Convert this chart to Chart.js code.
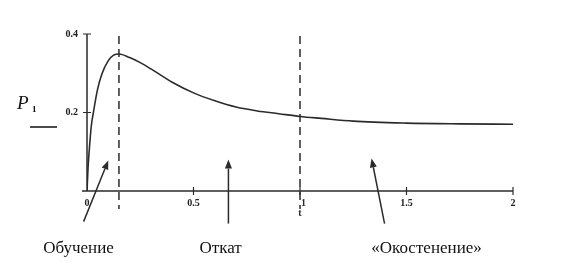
<!DOCTYPE html>
<html>
<head>
<meta charset="utf-8">
<script src="https://cdn.jsdelivr.net/npm/chart.js@4/dist/chart.umd.min.js"></script>
<style>
  html, body { margin: 0; padding: 0; background: #fff; }
  #wrap { width: 588px; height: 262px; }
</style>
</head>
<body>
<div id="wrap"><canvas id="chart" width="588" height="262"></canvas></div>
<script>
// curve: time t and P1
const tValues = [0, 0.005, 0.01, 0.02, 0.03, 0.05, 0.07, 0.1, 0.125, 0.15, 0.2, 0.25, 0.3, 0.4, 0.5,
  0.6, 0.7, 0.8, 0.9, 1.0, 1.1, 1.25, 1.5, 1.75, 2.0];
const pValues = [0, 0.06, 0.10, 0.165, 0.20, 0.26, 0.298, 0.332, 0.346, 0.349, 0.34, 0.327, 0.311, 0.277, 0.25,
  0.23, 0.214, 0.204, 0.197, 0.19, 0.185, 0.178, 0.173, 0.171, 0.170];

const xTicks = [0, 0.5, 1, 1.5, 2];
const yTicks = [0.2, 0.4];

// dashed phase borders
const phaseBorders = [0.15, 1.0];

// phase captions and their arrows (tip / tail in data units)
const phaseLabels = ["Обучение", "Откат", "«Окостенение»"];
const labelT = [-0.04, 0.627, 1.594];
const arrowTipT = [0.10, 0.664, 1.336];
const arrowTipP = [0.078, 0.08, 0.083];
const arrowTailT = [-0.016, 0.664, 1.397];
const arrowTailP = [-0.078, -0.083, -0.083];

const ink = "#2b2b2b";
const tickFont = { family: "Liberation Serif", size: 10, weight: "bold" };

const decor = {
  id: "decor",
  afterDraw(chart) {
    const ctx = chart.ctx;
    const xs = chart.scales.x, ys = chart.scales.y;
    const area = chart.chartArea;
    ctx.save();
    ctx.strokeStyle = ink;
    ctx.fillStyle = ink;

    // axes
    ctx.lineWidth = 1.5;
    ctx.beginPath();
    ctx.moveTo(area.left - 5, area.bottom);
    ctx.lineTo(area.right, area.bottom);
    ctx.moveTo(area.left, area.top);
    ctx.lineTo(area.left, area.bottom);
    ctx.stroke();

    // ticks crossing the axes
    ctx.lineWidth = 1.2;
    ctx.beginPath();
    xTicks.forEach(v => {
      if (v === 0) return;
      const x = xs.getPixelForValue(v);
      ctx.moveTo(x, area.bottom - 4);
      ctx.lineTo(x, area.bottom + 4);
    });
    yTicks.forEach(v => {
      const y = ys.getPixelForValue(v);
      ctx.moveTo(area.left - 4, y);
      ctx.lineTo(area.left + 4, y);
    });
    ctx.stroke();

    // dashed borders
    ctx.lineWidth = 1.5;
    ctx.setLineDash([8, 5]);
    ctx.beginPath();
    phaseBorders.forEach(v => {
      const x = xs.getPixelForValue(v);
      ctx.moveTo(x, area.top + 2);
      ctx.lineTo(x, area.bottom + 18);
    });
    ctx.stroke();
    ctx.setLineDash([]);

    // tick label "1" sits on the dash, redraw it on top, then "t" below
    ctx.font = "bold 10px 'Liberation Serif'";
    ctx.textAlign = "left";
    ctx.textBaseline = "middle";
    ctx.fillText("1", xs.getPixelForValue(1) + 1, area.bottom + 12);
    ctx.textAlign = "center";
    ctx.fillText("t", xs.getPixelForValue(1), area.bottom + 22);

    // arrows
    ctx.lineWidth = 1.5;
    arrowTipT.forEach((t, i) => {
      const x1 = xs.getPixelForValue(arrowTailT[i]);
      const y1 = ys.getPixelForValue(arrowTailP[i]);
      const x2 = xs.getPixelForValue(t);
      const y2 = ys.getPixelForValue(arrowTipP[i]);
      const a = Math.atan2(y2 - y1, x2 - x1);
      const len = 9, half = 3.5;
      const bx = x2 - len * Math.cos(a), by = y2 - len * Math.sin(a);
      ctx.beginPath();
      ctx.moveTo(x1, y1);
      ctx.lineTo(bx, by);
      ctx.stroke();
      ctx.beginPath();
      ctx.moveTo(x2, y2);
      ctx.lineTo(bx + half * Math.sin(a), by - half * Math.cos(a));
      ctx.lineTo(bx - half * Math.sin(a), by + half * Math.cos(a));
      ctx.closePath();
      ctx.fill();
    });

    // captions
    ctx.fillStyle = "#111";
    ctx.font = "17px 'Liberation Serif'";
    ctx.textAlign = "center";
    ctx.textBaseline = "alphabetic";
    phaseLabels.forEach((s, i) => {
      ctx.fillText(s, xs.getPixelForValue(labelT[i]), 253);
    });

    // P1 axis title with its bar
    ctx.textAlign = "left";
    ctx.font = "italic 19px 'Liberation Serif'";
    ctx.fillText("P", 17, 109);
    ctx.font = "bold 9px 'Liberation Serif'";
    ctx.fillText("1", 32, 112);
    ctx.lineWidth = 1.5;
    ctx.strokeStyle = "#111";
    ctx.beginPath();
    ctx.moveTo(30, 127);
    ctx.lineTo(57, 127);
    ctx.stroke();

    ctx.restore();
  }
};

new Chart(document.getElementById("chart"), {
  type: "scatter",
  data: {
    datasets: [{
      data: tValues.map((t, i) => ({ x: t, y: pValues[i] })),
      showLine: true,
      borderColor: ink,
      borderWidth: 1.6,
      pointRadius: 0,
      cubicInterpolationMode: "monotone",
      fill: false
    }]
  },
  options: {
    responsive: false,
    animation: false,
    layout: { padding: { left: 0, right: 75, top: 34, bottom: 0 } },
    plugins: { legend: { display: false }, tooltip: { enabled: false } },
    scales: {
      x: {
        type: "linear",
        min: 0, max: 2,
        afterFit: s => { s.height = 71; },
        afterBuildTicks: s => { s.ticks = xTicks.map(v => ({ value: v })); },
        grid: { display: false, drawTicks: false },
        border: { display: false },
        ticks: {
          padding: 6,
          color: "#222",
          font: tickFont,
          maxRotation: 0,
          autoSkip: false,
          callback: v => (v === 1 ? "" : String(v))
        }
      },
      y: {
        min: 0, max: 0.4,
        afterFit: s => { s.width = 87; },
        afterBuildTicks: s => { s.ticks = yTicks.map(v => ({ value: v })); },
        grid: { display: false, drawTicks: false },
        border: { display: false },
        ticks: {
          padding: 9,
          color: "#222",
          font: tickFont,
          callback: v => String(v)
        }
      }
    }
  },
  plugins: [decor]
});
</script>
</body>
</html>
